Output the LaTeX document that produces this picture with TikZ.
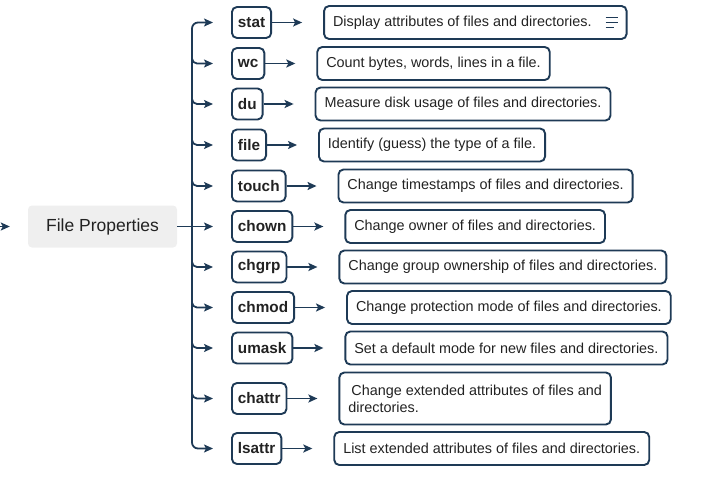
\documentclass[tikz,border=0pt]{standalone}
\usepackage{fontspec}
\setmainfont{Liberation Sans}
\usepackage{tikz}
\usetikzlibrary{positioning,arrows.meta}

\definecolor{navy}{HTML}{1E3A56}
\definecolor{propgray}{HTML}{EFEFEF}
\definecolor{ink}{HTML}{222222}

\tikzset{
  cmd/.style={draw=navy,line width=1.9pt,rounded corners=5pt,anchor=west,
    minimum height=31pt,inner xsep=6pt,text=ink,font=\fontsize{15.3}{18}\selectfont\bfseries},
  desc/.style={draw=navy,line width=1.9pt,rounded corners=5pt,right=51pt of #1,
    minimum height=33pt,inner xsep=9pt,text=ink,font=\fontsize{14.4}{17}\selectfont},
  link/.style={draw=navy,line width=1.8pt,-{Stealth[length=9pt,width=8pt,inset=2pt]}},
}

\begin{document}
\begin{tikzpicture}[x=1pt,y=-1pt]
			\useasboundingbox (0,0) rectangle (720,487);
			
			\node[fill=propgray,rounded corners=4pt,minimum width=149pt,minimum height=42pt,
			  text=ink,font=\fontsize{17.5}{20}\selectfont] (fp) at (102.5,226.5) {File Properties};
			\coordinate (entry) at (-12,226.5);
			\coordinate (trunk) at (192,0);
			
			\node[cmd] (stat) at (231,22.5) {stat};
			\node[cmd] (wc) at (231,63.5) {wc};
			\node[cmd] (du) at (231,104) {du};
			\node[cmd] (file) at (231,145) {file};
			\node[cmd] (touch) at (231,186) {touch};
			\node[cmd] (chown) at (231,226.5) {chown};
			\node[cmd] (chgrp) at (231,267) {chgrp};
			\node[cmd] (chmod) at (231,307.5) {chmod};
			\node[cmd] (umask) at (231,348) {umask};
			\node[cmd] (chattr) at (231,398.5) {chattr};
			\node[cmd] (lsattr) at (231,448.5) {lsattr};
			
			\node[desc=stat] (stat-d) {Display attributes of files and directories.\hspace*{26pt}};
			\node[desc=wc] (wc-d) {Count bytes, words, lines in a file.};
			\node[desc=du] (du-d) {Measure disk usage of files and directories.};
			\node[desc=file] (file-d) {Identify (guess) the type of a file.};
			\node[desc=touch] (touch-d) {Change timestamps of files and directories.};
			\node[desc=chown] (chown-d) {Change owner of files and directories.};
			\node[desc=chgrp] (chgrp-d) {Change group ownership of files and directories.};
			\node[desc=chmod] (chmod-d) {Change protection mode of files and directories.};
			\node[desc=umask] (umask-d) {Set a default mode for new files and directories.};
			\node[desc=chattr,align=left,minimum height=52pt] (chattr-d) {\hspace*{3pt}Change extended attributes of files and\\directories.};
			\node[desc=lsattr] (lsattr-d) {List extended attributes of files and directories.};
			
			% notes icon
			\draw[navy,line width=1pt] ([xshift=-22pt,yshift=5pt]stat-d.east) -- ([xshift=-10pt,yshift=5pt]stat-d.east);
			\draw[navy,line width=1pt] ([xshift=-22pt]stat-d.east) -- ([xshift=-10pt]stat-d.east);
			\draw[navy,line width=1pt] ([xshift=-22pt,yshift=-5pt]stat-d.east) -- ([xshift=-14pt,yshift=-5pt]stat-d.east);
			
			\draw[link,shorten >=18pt] (entry) -- (fp);
			\draw[link,shorten >=18pt] (fp) -- (chown);
			
			\draw[link,{Stealth[length=9pt,width=8pt,inset=2pt]}-{Stealth[length=9pt,width=8pt,inset=2pt]},rounded corners=6pt]
			  ([xshift=-18pt]stat.west) -| (trunk |- lsattr.west) -- ([xshift=-18pt]lsattr.west);
			\foreach \c in {wc,du,file,touch,chgrp,chmod,umask,chattr}
			  \draw[link,rounded corners=5pt] ([yshift=8pt]trunk |- \c.west) |- ([xshift=-18pt]\c.west);
			
			\foreach \c in {stat,wc,du,file,touch,chown,chgrp,chmod,umask,chattr,lsattr}
			  \draw[link,shorten >=21pt] (\c) -- (\c-d);
			
		\end{tikzpicture}
\end{document}
